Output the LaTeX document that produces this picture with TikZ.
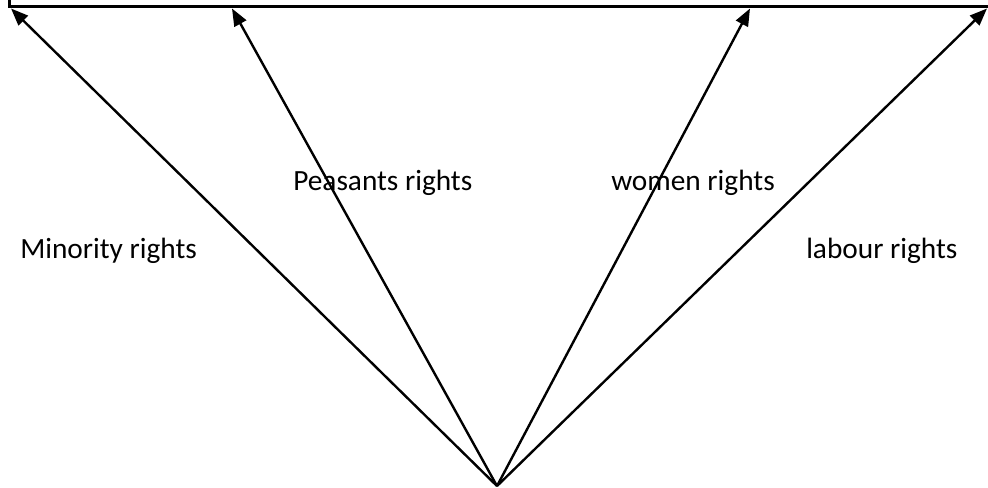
\documentclass[tikz,border=0pt]{standalone}
\usepackage{fontspec}
\setmainfont{Carlito}
\usetikzlibrary{arrows.meta}
\begin{document}
\begin{tikzpicture}[x=0.75pt,y=-0.75pt,
  conn/.style={line width=1.8pt,-{Triangle[length=13pt,width=10pt]}},
  frame/.style={line width=1.8pt},
  lbl/.style={inner sep=0pt,anchor=base west,font=\fontsize{22}{26}\selectfont}]
\useasboundingbox (0,0) rectangle (988,488);
\coordinate (tl) at (9.5,-5);
\coordinate (c) at (9.5,6.5);
\coordinate (tr) at (995,6.5);
\draw[frame] (tl) -- (c) -- (tr);
\coordinate (o) at (497,486);
\coordinate (t1) at (11,8.5);
\coordinate (t2) at (232,8.5);
\coordinate (t3) at (750,8.5);
\coordinate (t4) at (987,8.5);
\draw[conn] (o) -- (t1);
\draw[conn] (o) -- (t2);
\draw[conn] (o) -- (t3);
\draw[conn] (o) -- (t4);
\node[lbl] (minority) at (20,258) {Minority rights};
\node[lbl] (peasants) at (293,191) {Peasants rights};
\node[lbl] (women) at (611,191) {women rights};
\node[lbl] (labour) at (806,258) {labour rights};
\end{tikzpicture}
\end{document}
